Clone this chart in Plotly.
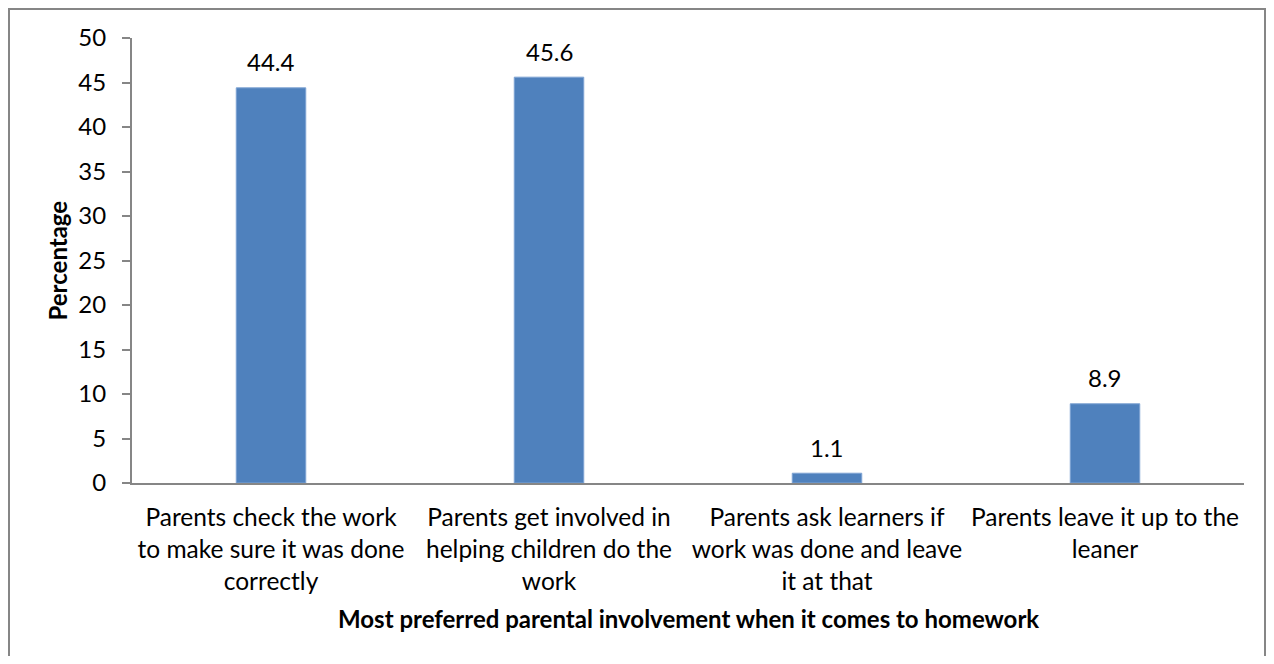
import plotly.graph_objects as go

categories = [
    "Parents check the work<br>to make sure it was done<br>correctly",
    "Parents get involved in<br>helping children do the<br>work",
    "Parents ask learners if<br>work was done and leave<br>it at that",
    "Parents leave it up to the<br>leaner",
]
values = [44.4, 45.6, 1.1, 8.9]
y_ticks = [0, 5, 10, 15, 20, 25, 30, 35, 40, 45, 50]
x_title = "Most preferred parental involvement when it comes to homework"
y_title = "Percentage"

FONT = "Lato"
OFF = 8  # page body margin
W, H = 1274 - 2 * OFF, 664 - 2 * OFF
L, T = 132 - OFF, 38 - OFF
R = W - (1244 - OFF)
B = H - (483 - OFF)
pw, ph = W - L - R, H - T - B

fig = go.Figure()
fig.add_trace(go.Bar(
    x=categories, y=values,
    marker=dict(color="#4F81BD", line=dict(color="#7EA3D3", width=1)),
    width=0.25, showlegend=False, hoverinfo="skip",
))

for c, v in zip(categories, values):
    fig.add_annotation(x=c, y=v, xref="x", yref="y", text=f"{v:.1f}",
                       showarrow=False, yanchor="middle", yshift=26,
                       font=dict(family=FONT, size=24, color="#000"))

fig.add_annotation(x=0.5, y=0, xref="paper", yref="paper", text=f"<b>{x_title}</b>",
                   showarrow=False, yanchor="middle", yshift=-135,
                   font=dict(family=FONT, size=24, color="#000"))
fig.add_annotation(x=0, y=0.5, xref="paper", yref="paper", text=f"<b>{y_title}</b>",
                   showarrow=False, xanchor="center", xshift=-75, textangle=-90,
                   font=dict(family=FONT, size=24, color="#000"))

# outer chart border (page pixel coords converted to paper)
def px2x(p):
    return (p - OFF - L) / pw
def px2y(p):
    return (H - B - (p - OFF)) / ph
fig.add_shape(type="rect", xref="paper", yref="paper",
              x0=px2x(9), x1=px2x(1265), y0=px2y(720), y1=px2y(9),
              line=dict(color="#868686", width=2), fillcolor="rgba(0,0,0,0)", layer="below")

fig.update_layout(
    width=W, height=H,
    margin=dict(l=L, r=R, t=T, b=B, autoexpand=False),
    paper_bgcolor="white", plot_bgcolor="white",
    font=dict(family=FONT, size=24, color="#000"),
    bargap=0.75,
)
fig.update_xaxes(
    showline=True, linecolor="#868686", linewidth=2,
    ticks="", showgrid=False, zeroline=False,
    ticklabelstandoff=12,
    tickfont=dict(family=FONT, size=24.5, color="#000"),
    automargin=False,
)
fig.update_yaxes(
    range=[0, 50], tickvals=y_ticks, showline=True, linecolor="#868686", linewidth=2,
    ticks="outside", ticklen=8, tickcolor="#868686", tickwidth=2,
    ticklabelstandoff=11, showgrid=False, zeroline=False,
    tickfont=dict(family=FONT, size=24, color="#000"),
    automargin=False,
)

fig.write_html("out.html")
